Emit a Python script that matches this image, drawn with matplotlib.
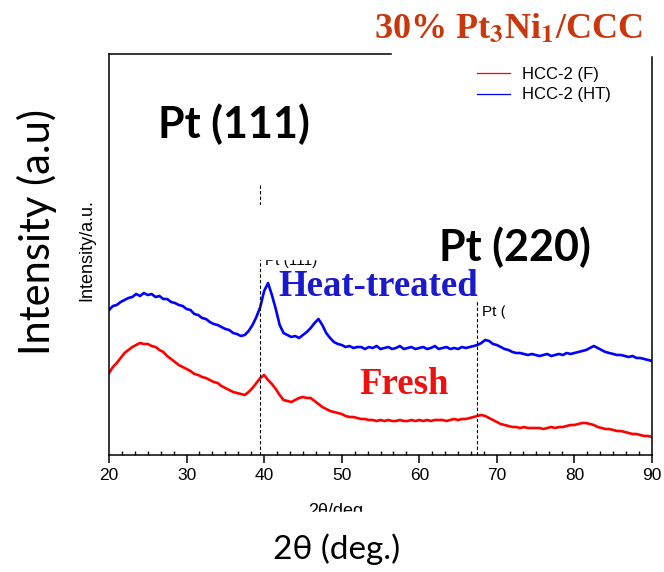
import numpy as np
import matplotlib
matplotlib.use("Agg")
import matplotlib.pyplot as plt
from matplotlib.patches import Rectangle
from matplotlib.ticker import MultipleLocator

plt.rcParams["mathtext.fontset"] = "stix"

# XRD scans, 0.5 deg step
two_theta = np.arange(20.0, 90.01, 0.5)

hcc2_ht = [
    145, 149, 150, 153, 155, 157, 158, 161, 159, 162, 160, 161, 158, 159, 156, 156, 153, 152, 150, 149,
    146, 145, 141, 140, 137, 136, 133, 131, 130, 128, 126, 125, 122, 121, 119, 120, 124, 130, 138, 148,
    164, 172, 160, 146, 130, 122, 120, 118, 119, 117, 120, 123, 127, 132, 136, 130, 122, 117, 113, 111,
    110, 108, 109, 107, 108, 108, 106, 108, 107, 109, 106, 107, 108, 106, 107, 109, 106, 107, 108, 106,
    107, 108, 106, 107, 109, 106, 107, 108, 106, 107, 106, 108, 107, 108, 109, 110, 112, 115, 114, 111,
    110, 108, 106, 105, 103, 102, 102, 101, 100, 101, 100, 99, 100, 101, 99, 100, 101, 100, 102, 101,
    102, 103, 104, 105, 107, 109, 107, 105, 103, 102, 101, 100, 100, 99, 98, 99, 97, 97, 96, 95, 94,
]

hcc2_f = [
    82, 88, 92, 97, 102, 105, 108, 110, 112, 111, 111, 109, 108, 105, 103, 99, 96, 93, 90, 88,
    86, 84, 81, 80, 78, 77, 75, 73, 72, 69, 67, 65, 63, 62, 61, 60, 63, 67, 72, 77,
    80, 75, 71, 66, 60, 55, 54, 53, 55, 57, 58, 57, 57, 54, 51, 48, 46, 44, 43, 42,
    41, 39, 38, 38, 37, 36, 36, 35, 35, 34, 35, 34, 35, 34, 34, 35, 34, 34, 35, 34,
    35, 34, 35, 34, 35, 35, 35, 34, 35, 36, 35, 36, 36, 37, 38, 39, 40, 39, 37, 35,
    33, 31, 30, 29, 28, 28, 27, 28, 27, 27, 27, 27, 26, 27, 28, 27, 28, 28, 29, 30,
    30, 31, 32, 32, 31, 30, 28, 27, 26, 26, 25, 24, 24, 23, 22, 21, 21, 20, 19, 19, 18,
]

peak_pos = [39.5, 67.4]
peak_top = [270, 155]

W, H = 664, 572


def px(x, y):
    return x / W, 1 - y / H


fig = plt.figure(figsize=(6.64, 5.72), dpi=100)
ax = fig.add_axes([109 / W, 1 - 455 / H, (652 - 109) / W, (455 - 54) / H])

ax.plot(two_theta, hcc2_f, color="red", lw=1.9, label="HCC-2 (F)")
ax.plot(two_theta, hcc2_ht, color="blue", lw=1.9, label="HCC-2 (HT)")
ax.vlines(peak_pos, 0, peak_top, colors="black", linestyles=(0, (3, 2)), lw=0.8)

ax.set_xlim(20, 90)
ax.set_ylim(0, 401)
ax.xaxis.set_major_locator(MultipleLocator(10))
ax.xaxis.set_minor_locator(MultipleLocator(10 / 6))
ax.tick_params(axis="x", which="major", direction="out", length=6, width=1.1,
               labelsize=12.5, pad=3)
ax.tick_params(axis="x", which="minor", direction="in", length=3, width=1)
ax.tick_params(axis="y", left=False, labelleft=False)
for tl in ax.get_xticklabels():
    tl.set_family("Liberation Sans")
for s in ax.spines.values():
    s.set_linewidth(1.1)

leg = ax.legend(loc="upper left", bbox_to_anchor=px(477, 67), bbox_transform=fig.transFigure,
                frameon=False, handlelength=1.95, handletextpad=0.75,
                labelspacing=0.33, borderpad=0, borderaxespad=0,
                prop={"family": "Liberation Sans", "size": 12})
for l in leg.get_lines():
    l.set_linewidth(0.9)

# small original labels
fig.text(*px(87, 250), "Intensity/a.u.", rotation=90, ha="center", va="center",
         family="Liberation Sans", fontsize=13)
fig.text(*px(336, 503), "2θ/deg", ha="center", va="top", family="Liberation Sans", fontsize=13)
fig.text(*px(265, 265), "Pt (111)", ha="left", va="baseline", family="Liberation Sans", fontsize=11)
fig.text(*px(482, 316), "Pt (220)", ha="left", va="baseline", family="Liberation Sans", fontsize=11)

# white masks over the pasted overlays
for x0, y0, x1, y1 in [(392, 0, 664, 55), (285, 512, 400, 530), (250, 205, 320, 259),
                       (505, 298, 560, 322)]:
    fig.add_artist(Rectangle(px(x0, y1), (x1 - x0) / W, (y1 - y0) / H,
                             transform=fig.transFigure, color="white", zorder=5))

# overlaid annotations
fig.text(*px(508, 30), r"30% Pt$_\mathbf{3}$Ni$_\mathbf{1}$/CCC", ha="center", va="center",
         family="Liberation Serif", fontweight="bold", fontsize=26, color="#c8380c", zorder=6)
fig.text(*px(37, 232), "Intensity (a.u)", rotation=90, ha="center", va="center",
         family=["Lato", "DejaVu Sans"], fontsize=30, zorder=6)
fig.text(*px(337, 549), "2θ (deg.)", ha="center", va="center",
         family=["Lato", "DejaVu Sans"], fontsize=24, zorder=6)
fig.text(*px(234, 124), "Pt (111)", ha="center", va="center",
         family=["Lato", "DejaVu Sans"], fontweight="bold", fontsize=31, zorder=6)
fig.text(*px(515, 247), "Pt (220)", ha="center", va="center",
         family=["Lato", "DejaVu Sans"], fontweight="bold", fontsize=31, zorder=6)
fig.text(*px(378, 287), "Heat-treated", ha="center", va="center",
         family="Liberation Serif", fontweight="bold", fontsize=26.5, color="#1a1acc", zorder=6)
fig.text(*px(404, 384), "Fresh", ha="center", va="center",
         family="Liberation Serif", fontweight="bold", fontsize=26.5, color="#ee1111", zorder=6)

fig.savefig("out.png", dpi=100)
